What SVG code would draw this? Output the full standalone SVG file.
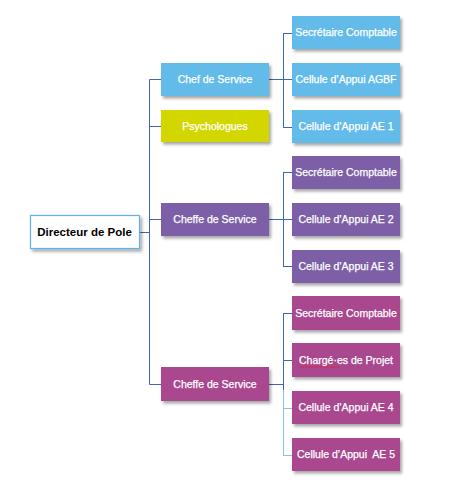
<svg xmlns="http://www.w3.org/2000/svg" width="462" height="484" viewBox="0 0 462 484">
<defs>
<filter id="sh" x="-10%" y="-20%" width="125%" height="150%">
<feDropShadow dx="2" dy="2.5" stdDeviation="1.5" flood-color="#000" flood-opacity="0.35"/>
</filter>
</defs>
<style>
.box{filter:url(#sh)}
.blue{fill:#63bbea}
.lime{fill:#d4d600}
.purple{fill:#7b5fa6}
.mag{fill:#a9468f}
.t{font-family:"Liberation Sans",Arial,sans-serif;font-size:10.5px;fill:#fff;stroke:#fff;stroke-width:0.25;text-anchor:middle;white-space:pre}
.tb{font-family:"Liberation Sans",Arial,sans-serif;font-size:11.5px;font-weight:bold;fill:#000;text-anchor:middle}
.c{fill:none;stroke:#3f66b0;stroke-width:1}
.cl{fill:none;stroke:#8dbfe8;stroke-width:1}
</style>
<rect width="462" height="484" fill="#fff"/>
<g id="connectors">
<path class="c" d="M139 232.5H150"/>
<path class="c" d="M149.5 79.5V384.5"/>
<path class="c" d="M149.5 79.5H161M149.5 126.5H161M149.5 219.5H161M149.5 384.5H161"/>
<path class="c" d="M269 79.5H283M283.5 33.5V127.5M283 33.5H292M283 79.5H292M283 127.5H292"/>
<path class="c" d="M269 219.5H283M283.5 172.5V266.5M283 172.5H292M283 219.5H292M283 266.5H292"/>
<path class="c" d="M269 384.5H283M283.5 313.5V390M283 313.5H292M283 360.5H292"/>
<path class="cl" d="M283 408.5H292M283 455.5H292M283.5 390V455.5"/>
</g>
<g id="directeur">
<rect class="box" x="30.5" y="215.5" width="109" height="33" fill="#fff" stroke="#5bb4e5" stroke-width="1.2"/>
<text class="tb" x="84.5" y="235.5">Directeur de Pole</text>
</g>
<g id="chef1">
<rect class="box blue" x="161" y="63" width="108" height="33"/>
<text class="t" x="215" y="83">Chef de Service</text>
</g>
<g id="psychologues">
<rect class="box lime" x="161" y="110" width="108" height="32"/>
<text class="t" x="215" y="130">Psychologues</text>
</g>
<g id="cheffe2">
<rect class="box purple" x="161" y="203" width="108" height="33"/>
<text class="t" x="215" y="223">Cheffe de Service</text>
</g>
<g id="cheffe3">
<rect class="box mag" x="161" y="367" width="108" height="34"/>
<text class="t" x="215" y="388">Cheffe de Service</text>
</g>
<g id="sec1">
<rect class="box blue" x="292" y="16" width="108" height="33"/>
<text class="t" x="346" y="36">Secrétaire Comptable</text>
</g>
<g id="agbf">
<rect class="box blue" x="292" y="63" width="108" height="33"/>
<text class="t" x="346" y="83">Cellule d’Appui AGBF</text>
</g>
<g id="ae1">
<rect class="box blue" x="292" y="110" width="108" height="33"/>
<text class="t" x="346" y="130">Cellule d’Appui AE 1</text>
</g>
<g id="sec2">
<rect class="box purple" x="292" y="156" width="108" height="33"/>
<text class="t" x="346" y="176">Secrétaire Comptable</text>
</g>
<g id="ae2">
<rect class="box purple" x="292" y="203" width="108" height="33"/>
<text class="t" x="346" y="223">Cellule d’Appui AE 2</text>
</g>
<g id="ae3">
<rect class="box purple" x="292" y="250" width="108" height="33"/>
<text class="t" x="346" y="270">Cellule d’Appui AE 3</text>
</g>
<g id="sec3">
<rect class="box mag" x="292" y="296" width="108" height="34"/>
<text class="t" x="346" y="317">Secrétaire Comptable</text>
</g>
<g id="charge">
<rect class="box mag" x="292" y="343" width="108" height="34"/>
<text class="t" x="346" y="364">Chargé·es de Projet</text>
<path d="M300 367.5l1.5-1.5 1.5 1.5 1.5-1.5 1.5 1.5 1.5-1.5 1.5 1.5 1.5-1.5 1.5 1.5 1.5-1.5 1.5 1.5 1.5-1.5 1.5 1.5 1.5-1.5 1.5 1.5 1.5-1.5 1.5 1.5 1.5-1.5 1.5 1.5 1.5-1.5 1.5 1.5 1.5-1.5 1.5 1.5 1.5-1.5 1.5 1.5 1.5-1.5 1.5 1.5" fill="none" stroke="#e8202a" stroke-width="0.8"/>
</g>
<g id="ae4">
<rect class="box mag" x="292" y="391" width="108" height="33"/>
<text class="t" x="346" y="411">Cellule d’Appui AE 4</text>
</g>
<g id="ae5">
<rect class="box mag" x="292" y="438" width="108" height="33"/>
<text class="t" x="346" y="458">Cellule d’Appui  AE 5</text>
</g>
</svg>
